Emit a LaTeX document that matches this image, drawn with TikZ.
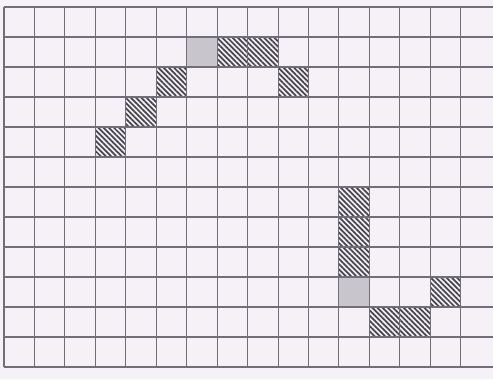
\documentclass[tikz,border=0pt]{standalone}
\usepackage{tikz}
\usetikzlibrary{patterns.meta}
\definecolor{paper}{RGB}{246,241,246}
\definecolor{gridgray}{RGB}{112,110,122}
\definecolor{hatchgray}{RGB}{72,70,78}
\definecolor{cellgray}{RGB}{200,198,204}

\begin{document}
\begin{tikzpicture}[
        x=0.02cm, y=-0.02cm,
        hatchcell/.style={pattern={Lines[angle=-45, distance=2.1pt, line width=1pt]}, pattern color=hatchgray},
        graycell/.style={fill=cellgray},
        gridline/.style={gridgray, line width=0.6pt}
    ]
        % Page
        \fill[paper] (0,0) rectangle (493,379);
        \useasboundingbox (0,0) rectangle (493,379);

        \def\cw{30.45}
        \def\ch{30}

        % Gray cells
        \foreach \c/\r in {6/1, 11/9} {
            \fill[graycell] ({4+\c*\cw},{7+\r*\ch}) rectangle ({4+(\c+1)*\cw},{7+(\r+1)*\ch});
        }

        % Hatched cells
        \foreach \c/\r in {7/1, 8/1, 5/2, 9/2, 4/3, 3/4, 11/6, 11/7, 11/8, 14/9, 12/10, 13/10} {
            \fill[hatchcell] ({4+\c*\cw},{7+\r*\ch}) rectangle ({4+(\c+1)*\cw},{7+(\r+1)*\ch});
        }

        % Grid
        \foreach \c in {0,...,15} {
            \draw[gridline] ({4+\c*\cw},7) -- ({4+\c*\cw},367);
        }
        \foreach \r in {0,...,12} {
            \draw[gridline] (4,{7+\r*\ch}) -- (493,{7+\r*\ch});
        }

    \end{tikzpicture}
\end{document}
